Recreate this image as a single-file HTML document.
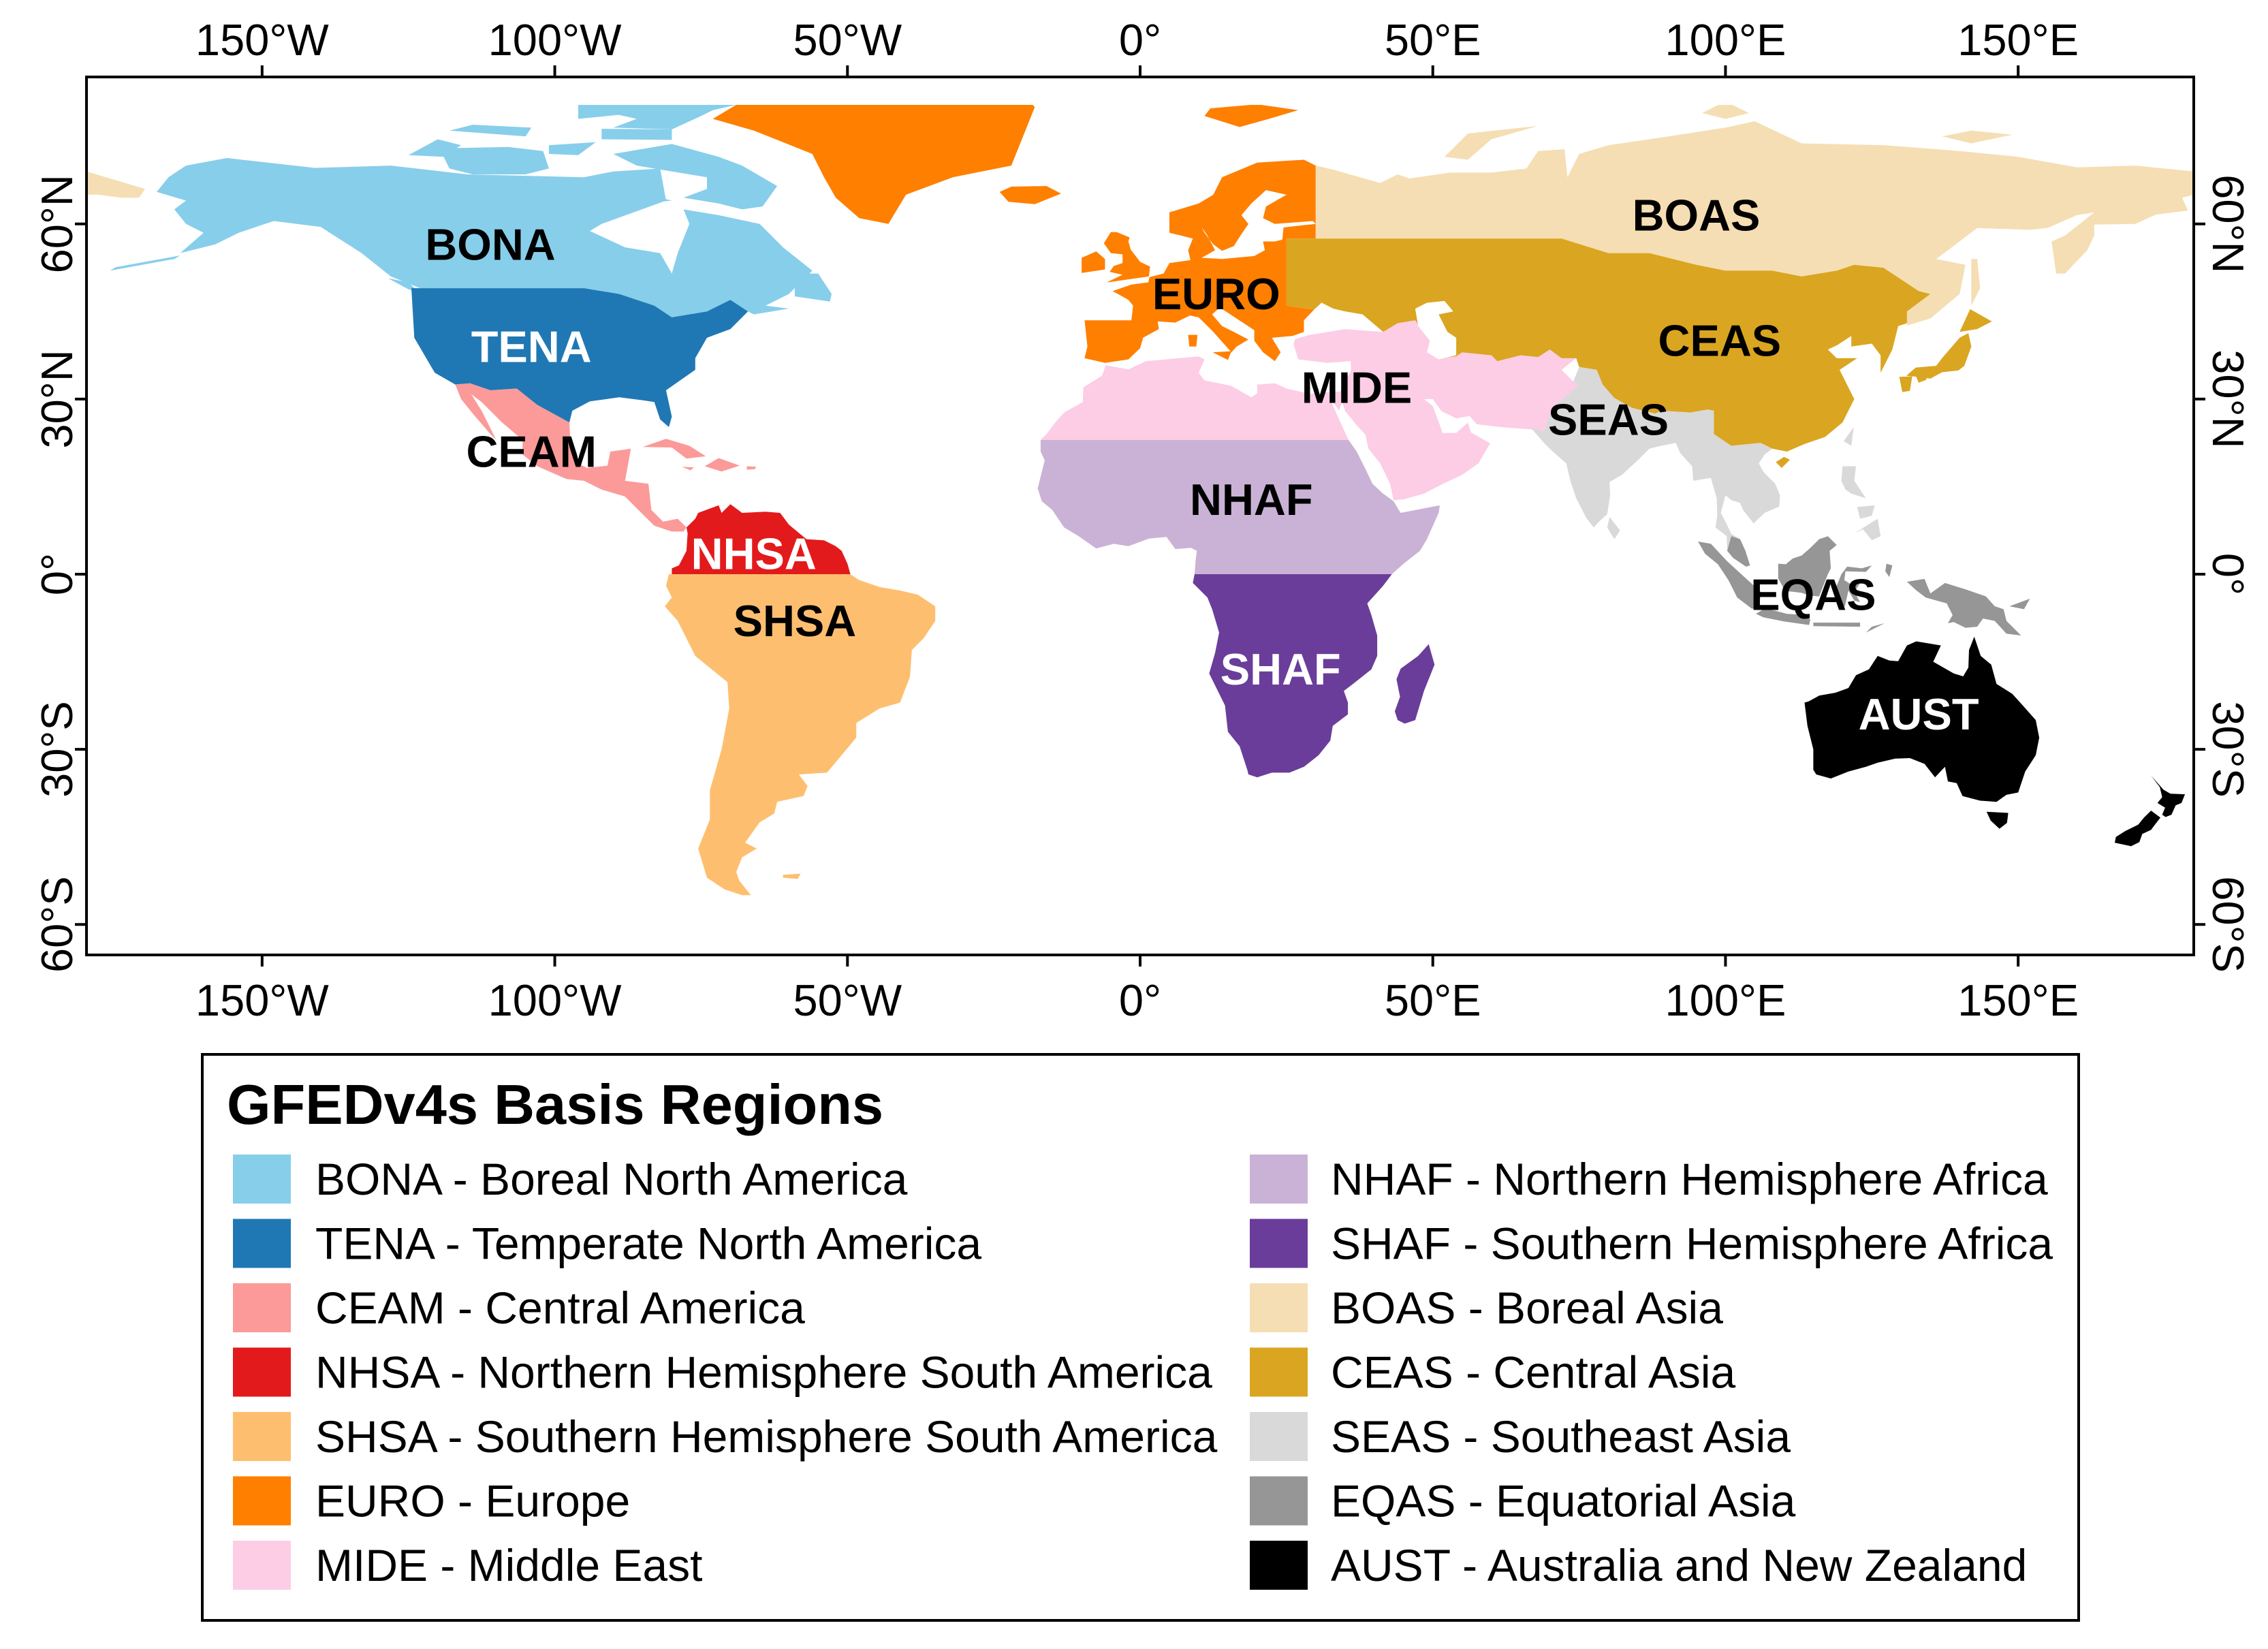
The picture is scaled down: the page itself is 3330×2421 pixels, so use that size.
<!DOCTYPE html>
<html><head><meta charset="utf-8"><title>GFEDv4s Basis Regions</title>
<style>
html,body{margin:0;padding:0;background:#fff}
svg{display:block;font-family:"Liberation Sans",Arial,sans-serif}
.lab{font-weight:bold;font-size:65px;text-anchor:middle;dominant-baseline:central}
.tick{font-size:65px}
.leg{font-size:66px;dominant-baseline:central}
</style></head>
<body>
<svg id="chart" width="3330" height="2421" viewBox="0 0 3330 2421" xmlns="http://www.w3.org/2000/svg">
<defs><clipPath id="frameclip"><rect x="127" y="154" width="3094" height="1248"/></clipPath></defs>
<g id="land" clip-path="url(#frameclip)"></g>
<g id="labels"></g>
<rect x="127" y="113" width="3094" height="1289" fill="none" stroke="#000" stroke-width="4"/>
<g id="axes"></g>
<g id="legend">
<rect x="297" y="1548" width="2755" height="831" fill="none" stroke="#000" stroke-width="4"/>
<text x="333" y="1650" font-size="83" font-weight="bold">GFEDv4s Basis Regions</text>
</g>
</svg>
<script>
const regionCodes=["BONA","TENA","CEAM","NHSA","SHSA","EURO","MIDE","NHAF","SHAF","BOAS","CEAS","SEAS","EQAS","AUST"];
const regionNames=["Boreal North America","Temperate North America","Central America","Northern Hemisphere South America","Southern Hemisphere South America","Europe","Middle East","Northern Hemisphere Africa","Southern Hemisphere Africa","Boreal Asia","Central Asia","Southeast Asia","Equatorial Asia","Australia and New Zealand"];
const regionColors=["#87CEEB","#1F78B4","#FB9A99","#E31A1C","#FDBF6F","#FF7F00","#FCCDE5","#CAB2D6","#6A3D9A","#F5DEB3","#DAA520","#D9D9D9","#969696","#000000"];
const labelLon=[-111,-104,-104,-66,-59,13,37,19,24,95,99,80,115,133];
const labelLat=[56.5,39,21,3.5,-8,48,32,12.8,-16.3,61.5,40,26.5,-3.5,-24];
const labelColors=["#000","#fff","#000","#fff","#000","#000","#000","#000","#fff","#000","#000","#000","#000","#fff"];
const lonTicks=[-150,-100,-50,0,50,100,150];
const lonTickLabels=["150°W","100°W","50°W","0°","50°E","100°E","150°E"];
const latTicks=[60,30,0,-30,-60];
const latTickLabels=["60°N","30°N","0°","30°S","60°S"];

const shapeBONA=[
[[-166,68],[-163,70],[-156,71.3],[-141,69.6],[-128,70],[-115,68.5],[-95,68],[-90,69],[-82,69.5],[-81,64],[-92,60],[-94,58.8],[-88,56],[-82,55],[-80,51.5],[-79,55],[-77,60],[-78,62.5],[-72,61.5],[-65,60],[-61,56],[-56,52],[-60,48],[-64,46],[-60,45.5],[-66,44.5],[-67,45],[-70,47],[-74,45],[-80,44],[-83,46],[-89,48],[-95,49],[-123,49],[-128,51],[-133,55],[-140,59.5],[-148,60.5],[-154,58.5],[-158,56.5],[-164,55],[-160,58.5],[-163,60],[-165,62.5],[-163,64],[-168,65.5]],
[[-90,72],[-80,73.7],[-72,71.5],[-68,70],[-62,66.5],[-64.5,63],[-68,62.5],[-72,63.5],[-78,64.5],[-74,66],[-74,68],[-80,69],[-86,70]],
[[-119,71.5],[-117,73],[-108,73.2],[-102,72.5],[-101,69.5],[-105,68.5],[-114,68.5],[-118,69.5]],
[[-125,71.8],[-120,74.5],[-116,73.5],[-119,71.5]],
[[-90,76.5],[-80,76.2],[-75,78.5],[-73,79.5],[-62,82],[-70,83],[-90,81.5],[-95,80],[-86,78]],
[[-92,74.5],[-80,74.4],[-80,76.2],[-92,76.3]],
[[-101,72],[-96,71.8],[-93,74],[-101,73.5]],
[[-118,76],[-105,75],[-104,76.5],[-114,77]],
[[-96,78],[-86,79],[-90,81],[-96,80.5]],
[[-86,65.5],[-80,64],[-85,63.5]],
[[-59,47.6],[-53,46.7],[-52.7,48],[-55,51.5],[-57.5,51.5],[-59,49.5]],
[[-128.5,50.7],[-125,50],[-123.3,48.4],[-125,48.8]],
[[-176,52],[-165,54],[-164,54.6],[-175,52.6]]
];
const shapeTENA=[
[[-124.5,49],[-95,49],[-89,48],[-83,46],[-80,44],[-74,45],[-70,47],[-67,45],[-70,42],[-74,40.5],[-76,37],[-76,35],[-81,31.5],[-80,27],[-80.5,25.2],[-82,26.5],[-83,29.5],[-85,29.8],[-89,30.3],[-94,29.6],[-97,28],[-97.5,26],[-103,29],[-106.5,31.8],[-111,31.5],[-114.5,32.7],[-117,32.5],[-120.5,34.5],[-124,40.5]]
];
const shapeCEAM=[
[[-117,32.5],[-114.5,32.7],[-111,31.5],[-106.5,31.8],[-103,29],[-97.5,26],[-97.3,22],[-96,19],[-94.5,18.2],[-91,18.6],[-90.5,21],[-87,21.5],[-88,16],[-84,15.5],[-83.5,11],[-81.5,9],[-79,9.5],[-77.5,8],[-78,7.3],[-80,7.3],[-83,8.3],[-86,11.3],[-88,13.3],[-92,14.5],[-95,16],[-98,16.3],[-103,18.5],[-105.5,20.5],[-105.5,23],[-109,26],[-112.5,29.5],[-114.5,31]],
[[-117,32.5],[-114.7,31.5],[-112.5,28],[-110,23],[-111,24],[-114,27.5],[-116,30]],
[[-85,21.8],[-81,23.2],[-77,22],[-74.2,20.2],[-77.5,19.8],[-80,21.7]],
[[-74.4,18.5],[-72,19.9],[-68.4,18.6],[-71.5,17.6]],
[[-78.3,18.4],[-76.2,18.3],[-76.8,17.8]],
[[-67.2,18.5],[-65.6,18.4],[-65.8,18],[-67.2,17.9]]
];
const shapeNHSA=[
[[-80,0],[-80,1],[-78.8,1.5],[-77.5,4],[-77.3,7],[-77.5,8],[-76,9.5],[-75.5,10.5],[-72,11.8],[-71.5,10.5],[-70,12],[-68,10.5],[-64,10.7],[-61.5,10.5],[-60,8.5],[-57,6],[-54,5.8],[-52,4.8],[-51,4],[-50,1.8],[-49.5,0]]
];
const shapeSHSA=[
[[-80.5,0],[-81,-2],[-80,-4],[-81.2,-5.5],[-79,-8],[-76,-14],[-70.5,-18.5],[-70.2,-23],[-71.5,-30],[-73.5,-37],[-73.5,-42],[-75.5,-47],[-74,-52],[-71,-54],[-68,-55],[-66.5,-55],[-68.5,-52.5],[-69,-51],[-68,-48.5],[-65.5,-47],[-67.5,-46],[-65,-42.5],[-62.5,-41],[-62,-39],[-57.5,-38],[-56.8,-36.3],[-58.3,-34.3],[-53.5,-34],[-48.5,-28],[-48.5,-25.5],[-44.5,-23],[-41,-22],[-39.3,-17.5],[-39,-13],[-37,-11],[-35,-8],[-35,-5.5],[-38,-3.5],[-41,-2.8],[-44.5,-2.2],[-48,-1],[-49.5,0]],
[[-61,-51.5],[-58,-51.3],[-58.5,-52.2],[-61,-52]]
];
const shapeEURO=[
[[-9.5,43.5],[-9,39],[-9.5,37],[-6,36.2],[-2,36.8],[0,38.7],[0.5,40.5],[3.2,42],[3,43.3],[6,43.1],[8.5,44.3],[10,44],[12.5,41.5],[15.6,38],[16.5,39],[18.5,40.2],[16,41.5],[14,42.5],[12.3,44.5],[13.6,45.7],[19.5,41.8],[19.5,40],[21,38],[23,36.5],[24,38],[22.5,40.5],[26,40.8],[28,41.5],[28,43.5],[29.7,45.3],[25,46],[25,57.5],[30,57.5],[30,70],[28,71],[20,70.5],[14,68],[12.5,65],[10,63.5],[5,62],[5,58.5],[7,58],[9,57.5],[8.2,55.5],[8.6,53.8],[5,53.3],[4,51.5],[1.6,50.9],[1.4,50],[-1.5,49.6],[-4.7,48.5],[-2,47],[-1.2,46],[-1.5,43.5]],
[[-5.5,50],[1.5,51],[1.7,52.7],[0,53.5],[-1.6,55.6],[-2,57],[-1.8,57.7],[-4,58.6],[-5,58.6],[-6.2,56.7],[-5,55],[-3,54.8],[-3,53.3],[-4.5,52.8],[-5.2,51.8],[-3,51.3],[-5.7,50]],
[[-10,51.6],[-6,52.2],[-6,54],[-7.5,55.3],[-10,54.2]],
[[-24,65.5],[-22,66.4],[-16,66.5],[-13.5,65.2],[-18,63.4],[-22.5,63.8]],
[[11,78.5],[17,76.6],[22,78],[27,79.5],[20,80.5],[12,79.8]],
[[-73,78],[-68,81],[-40,83.5],[-20,82.5],[-18,80],[-20,75],[-22,70],[-32,68],[-40,65],[-43,60],[-48,61],[-52,64.5],[-54,68],[-56,72],[-66,76]],
[[8.2,41],[9.8,41],[9.6,39],[8.4,39]],[[12.4,38],[15.6,38.2],[15,36.7]]
];
const shapeMIDE=[
[[-17,23],[-16,24],[-14.5,26],[-13,27.7],[-9.8,29.5],[-9.7,32],[-6.5,34],[-5.9,35.8],[-2,35.1],[1,36.5],[10,37.3],[11,36.8],[10,34.5],[11,33.2],[15.5,32.3],[19,30.3],[20,31],[20,32.5],[23,32.7],[25,31.8],[29,30.9],[32.3,31.2],[32.5,29.9],[34,26.5],[35.6,23]],
[[32.5,31.2],[34.2,31.3],[35,33],[36,34.8],[36,36.5],[32,36.2],[27,36.8],[26.2,39.5],[26.5,40.3],[29,41],[35,42],[41.5,41.5],[44,43],[47,43.5],[48,42],[50,40.5],[49,38],[51,37],[54,37.3],[55,38],[60,37.5],[61,36.5],[65,37.5],[68,37.2],[70,38.5],[72,37],[74.5,37],[72,35],[74,33],[75,32.5],[71,29],[70,27.5],[69,24.5],[67,24.8],[61.5,25.2],[57.5,25.7],[56.3,27.1],[54,26.7],[51.5,27.9],[50,30],[48.5,30],[50,28.8],[51.4,25],[51.6,24.2],[54,24.2],[56,26],[56.5,24.3],[59.8,22.4],[57.8,19],[55,17],[52,15.6],[48.5,13.8],[45,12.8],[43.3,12.7],[42.7,15.5],[41,19],[39,21.5],[38.5,23.9],[37,25.5],[35,28],[34.5,29.5],[34,28],[32.7,29.8]]
];
const shapeNHAF=[
[[-17,23],[35.6,23],[37,21],[38.5,18],[39.7,15.5],[41.5,13.8],[43.3,12.5],[44.5,10.5],[51.2,11.8],[51,10.5],[49,6],[47.8,4],[45,1.8],[43,0],[9.3,0],[9.5,2.5],[9.7,4],[8.7,4.5],[6,4.3],[4.5,6.4],[1.5,6.1],[-2,4.8],[-4.5,5.2],[-7.5,4.4],[-10.5,6.5],[-13,8],[-15,11],[-16.8,12.5],[-17.5,14.7],[-16.3,19.5],[-17,21]]
];
const shapeSHAF=[
[[9.3,0],[9,-1.5],[11.5,-4],[12.3,-6],[13.5,-10],[12.8,-13.5],[11.8,-17],[14.5,-22.5],[15,-27],[17,-29.5],[18.3,-33.5],[18.5,-34.3],[20,-34.8],[22.5,-34],[25.5,-34],[28,-33],[30.5,-31],[32.5,-28.5],[32.9,-26],[35.5,-24],[35.5,-22],[34.8,-20],[36.5,-18.7],[39.5,-16.3],[40.5,-14],[40.5,-10.5],[39.5,-7],[38.8,-5],[41.5,-2],[43,0]],
[[44,-25],[45.2,-25.6],[47,-25],[48.5,-20],[50.3,-15.5],[49.3,-12],[47.5,-14],[44.5,-16.2],[43.8,-18],[44.4,-21],[43.5,-23.5]]
];
const shapeBOAS=[
[[30,57.5],[30,70],[33,69.3],[41,67],[44,68.5],[46,67.8],[53,68.8],[60,68.8],[66,69.5],[68,72.5],[72.5,72.8],[73,68],[75,72],[80,73.5],[87,74.5],[100,76.5],[105,77.6],[113,73.8],[127,73.5],[140,72.5],[150,71.5],[160,69.7],[170,70],[180,69],[180,65],[178,64.5],[179,62.3],[173.5,61.6],[170,60],[163,59.9],[163,58],[161.8,55.5],[158,51.5],[156.5,51.5],[155.7,57],[158,58],[163,62],[160,61.5],[155,59.3],[152,59],[143,59.3],[140,57],[136,54],[141,53],[140,48],[135,43.8],[131,42.6],[131,45],[135,48],[133,48.5],[127,52.5],[122,53],[119,52],[113,51],[108,52],[100,52],[95,53],[87,55],[80,55],[72,57.5]],
[[142,46],[143.5,49],[143,54],[142,54],[142,48]],
[[52,71.5],[56,75.5],[68,76.8],[60,74.5],[56,71]],
[[96,79],[100,81],[104,79],[100,78]],
[[137,75],[142,76],[149,75.3],[142,73.8]],
[[-180,69],[-175,67.5],[-170,66],[-171,64.5],[-174,64.5],[-178,65],[-180,65]]
];
const shapeCEAS=[
[[25,57.5],[72,57.5],[80,55],[87,55],[95,53],[100,52],[108,52],[113,51],[119,52],[122,53],[127,52.5],[133,48.5],[135,48],[131,45],[131,43],[129.5,42.5],[128.5,38.5],[126.5,34.5],[126.5,37.5],[125,39.5],[121.5,39],[121.5,40.8],[119,39.2],[117.5,38.5],[119,37],[122.5,37],[119.5,35],[121,32],[122,30],[120,26],[117,23.5],[113.5,22.3],[110.5,21],[108,21.5],[106,22.5],[101,22],[98,24],[98,28],[97,28.2],[94,27.7],[89,28],[88,27.5],[84,28.5],[81,30.2],[79,32.5],[78,35],[75,35.5],[74.5,37],[72,37],[70,38.5],[68,37.2],[65,37.5],[61,36.5],[60,37.5],[55,38],[54,37.3],[51,37],[49,38],[50,40.5],[48,42],[47,43.5],[44,43],[41.5,41.5],[38,44.5],[35,45],[33,45.5],[31,46.5],[29.7,45.3],[25,46]],
[[130.9,34],[132.5,35.4],[136,35.7],[137,37],[140,40.5],[141.5,41.3],[142,39],[140.8,35.7],[139.8,34.9],[137,34.6],[135,33.5],[132,33.9]],
[[140,41.5],[141.8,45.4],[145.5,43.3],[143,42]],
[[129.7,33.8],[131.9,33.9],[131.5,31.4],[130.2,31.2]],
[[132.5,34],[134.5,34.2],[134.3,33.3],[133,32.8]],
[[108.6,19.2],[110,20.1],[111,19.6],[109.6,18.2]]
];
const shapeSEAS=[
[[66,25.3],[67,24.8],[69,22.5],[70.5,21],[72.8,19],[73.5,16],[74.5,13],[76.3,9.5],[77.5,8],[78.3,8.9],[79.8,10.3],[80.3,13.5],[80.2,15.8],[82.3,17],[85,19.5],[87,21.5],[89,22],[91.5,22.5],[92.3,20.7],[94.3,18.5],[94.5,16],[97.5,16.5],[98.5,13],[98.6,10],[98.3,8],[100.2,6.5],[100.3,4],[101.3,2.8],[103.5,1.3],[104.2,1.5],[103.4,4],[102.5,6],[101,6.9],[100,9],[99.2,10.5],[100,13.5],[101,12.7],[102.5,12.2],[103,11],[104.8,8.7],[106.7,10.5],[109.2,11.6],[109.3,13.5],[108.5,15.5],[106.5,17.5],[105.7,19],[106.7,20.5],[108,21.5],[106,22.5],[101,22],[98,24],[98,28],[97,28.2],[94,27.7],[89,28],[88,27.5],[84,28.5],[81,30.2],[79,32.5],[78,35],[75,35.5],[74,33],[75,32.5],[71,29],[70,27.5],[69,24.5]],
[[79.8,8],[81,6],[82,7.5],[80.2,9.8]],
[[120,18.5],[122.3,18.5],[122,16],[124,13],[121.5,13.8],[120.5,14.5],[119.8,16]],
[[122,7],[126,9.5],[126.5,6.5],[125,5.8],[123.5,7.7]],
[[122.5,11.5],[125.5,11.8],[125,10],[123,9.5]],
[[120.2,22.8],[121.9,25.2],[121.5,22]]
];
const shapeEQAS=[
[[95.3,5.6],[97.5,5.2],[100.3,2.2],[103.8,-1],[106,-3],[105.8,-5.8],[104.5,-5.9],[102,-4],[100.5,-1],[98.7,1.7],[96.5,3.5]],
[[105.2,-6.8],[106.5,-6],[108.3,-6.2],[110.5,-6.8],[112.5,-6.9],[114.5,-7.7],[114.3,-8.7],[110,-8.1],[106.5,-7.4]],
[[109,1.8],[110.3,1.7],[111.5,2.7],[113,3.2],[114.5,4.5],[116,6],[117.5,6.5],[119,5],[117.8,4],[118,1],[117.5,0],[116.5,-2.5],[116,-3.8],[114.5,-3.7],[113,-3.2],[111.5,-3],[110.2,-2.9],[109,-0.7]],
[[119.5,-5.5],[119.4,-3.5],[118.8,-2.5],[119.8,0],[120.8,1.3],[123.3,1],[125,1.5],[124,0.4],[120.5,0.5],[120.3,-1],[121.5,-1.8],[123.5,-0.8],[122,-3],[123,-4.8],[122,-4.5],[121,-2.8],[120.4,-5.5]],
[[131,-1.3],[134,-0.8],[135,-3.3],[137.5,-1.5],[141,-2.6],[144.5,-3.8],[146,-5.5],[147.5,-6],[148,-8],[150.5,-10.5],[148,-10.2],[146,-8],[144,-7.6],[143,-9],[141,-9.2],[139,-8.2],[138,-8.4],[138.8,-7],[137.8,-5],[134.2,-4],[132.5,-2.7]],
[[124,-10],[127.2,-8.4],[125,-9]],
[[115,-8.3],[123,-8.3],[123,-9],[115,-8.9]],
[[148.5,-5.5],[152,-4.2],[151,-6]],
[[127.5,1.8],[128.5,1.5],[128,-0.5],[127.3,0.5]],
[[101.3,2.8],[103.5,1.3],[104.2,1.5],[103.4,4],[102.5,6],[101,6.5],[100.3,4]]
];
const shapeAUST=[
[[113.5,-22],[114,-26],[115,-30],[115,-33.5],[115.5,-34.3],[118,-35],[121,-33.8],[124,-33],[126,-32.3],[129,-31.6],[131.5,-31.5],[134,-32.5],[135.8,-34.8],[137.5,-33],[138,-35.5],[139.5,-35.8],[140.5,-38],[143.5,-38.8],[146.3,-39],[148,-37.8],[150,-37.4],[151.2,-33.8],[153,-31],[153.6,-28],[153,-25],[150.8,-22.5],[149,-20.5],[146.3,-18.8],[145.4,-15.5],[143.6,-14],[142.5,-10.7],[141.6,-13],[141.5,-16],[140.6,-17.5],[139,-17],[135.5,-15],[136.8,-12.2],[135.5,-12],[132.6,-11.5],[131,-12.2],[129.5,-14.9],[128,-14.8],[126,-14],[124.5,-16.3],[122.3,-17.3],[121,-19.5],[118.8,-20.3],[116,-20.8],[114.2,-21.8]],
[[144.6,-40.7],[148.3,-40.9],[148.1,-42.6],[146.8,-43.6],[145.3,-42.2]],
[[172.7,-34.5],[174.8,-36.9],[176,-37.6],[178.5,-37.7],[177.9,-39.2],[176.9,-39.6],[176.2,-41.2],[175.2,-41.6],[174.6,-41.2],[175.1,-40],[173.8,-39.2],[174.6,-38.2],[174.2,-36.5]],
[[172.7,-40.5],[174.3,-41.7],[173.3,-43],[172.7,-43.8],[171.2,-44.5],[170.7,-45.9],[169.3,-46.6],[166.5,-46],[166.7,-45],[168.3,-44],[170.5,-42.9],[171.5,-41.7]]
];
const shapeSeas=[
[[10.5,59.5],[11.5,58],[12.8,55.5],[10.5,54.2],[14,54],[19.5,54.5],[21.3,55.5],[21,57],[23,57],[24.3,57.3],[24.5,59.4],[28,59.8],[30,60],[29.5,60.5],[23,60],[21,61],[21.5,63],[25,65],[21.5,65.8],[19,63.5],[17.3,61.5],[18.5,60],[17,57.8],[16,56.2],[14,55.4],[12.5,56.5],[11,58.5]],
[[28,41.5],[28,43.5],[29.7,45.3],[31,46.5],[33,45.5],[35,45],[38,44.5],[41.5,41.5],[35,42],[29,41]],
[[47,45.5],[49,46.5],[52,46.8],[53.5,45],[51,44.5],[52.5,41.5],[54,40.5],[54,37.5],[51,36.8],[49,38],[49.5,40],[47.5,42.5]]
];
const regionShapes=[shapeBONA,shapeTENA,shapeCEAM,shapeNHSA,shapeSHSA,shapeEURO,shapeMIDE,shapeNHAF,shapeSHAF,shapeBOAS,shapeCEAS,shapeSEAS,shapeEQAS,shapeAUST];

const NS="http://www.w3.org/2000/svg";
const X0=127,X1=3221,Y0=113,Y1=1402;
function xScale(lon){return X0+(lon+180)/360*(X1-X0);}
function yScale(lat){return 843-lat*8.57;}
function pts(poly){return poly.map(p=>xScale(p[0]).toFixed(1)+","+yScale(p[1]).toFixed(1)).join(" ");}
function mk(tag,attrs,parent){const e=document.createElementNS(NS,tag);for(const k in attrs)e.setAttribute(k,attrs[k]);parent.appendChild(e);return e;}

const land=document.getElementById("land");
regionShapes.forEach((shape,i)=>{
  const g=mk("g",{fill:regionColors[i]},land);
  
  
  shape.forEach(poly=>{
    const p=mk("polygon",{points:pts(poly)},g);
    
    
  });
});
const seaG=mk("g",{fill:"#fff"},land);


shapeSeas.forEach(poly=>{
  const p=mk("polygon",{points:pts(poly)},seaG);
  
  
});

const labels=document.getElementById("labels");
regionCodes.forEach((c,i)=>{
  const t=mk("text",{x:xScale(labelLon[i]),y:yScale(labelLat[i]),class:"lab",fill:labelColors[i]},labels);
  t.textContent=c;
  
  
});

const axes=document.getElementById("axes");
lonTicks.forEach((v,i)=>{
  const x=xScale(v);
  const l1=mk("line",{x1:x,x2:x,y1:Y0,y2:Y0-17,stroke:"#000","stroke-width":4},axes);
  
  
  const l2=mk("line",{x1:x,x2:x,y1:Y1,y2:Y1+17,stroke:"#000","stroke-width":4},axes);
  
  
  const t1=mk("text",{x:x,y:81,class:"tick","text-anchor":"middle"},axes);
  t1.textContent=lonTickLabels[i];
  
  
  const t2=mk("text",{x:x,y:1491,class:"tick","text-anchor":"middle"},axes);
  t2.textContent=lonTickLabels[i];
  
  
});
latTicks.forEach((v,i)=>{
  const y=yScale(v);
  const l1=mk("line",{x1:X0,x2:X0-17,y1:y,y2:y,stroke:"#000","stroke-width":4},axes);
  
  
  const l2=mk("line",{x1:X1,x2:X1+17,y1:y,y2:y,stroke:"#000","stroke-width":4},axes);
  
  
  const t1=mk("text",{x:0,y:0,class:"tick","text-anchor":"middle",transform:"translate(106,"+y+") rotate(-90)"},axes);
  t1.textContent=latTickLabels[i];
  
  
  const t2=mk("text",{x:0,y:0,class:"tick","text-anchor":"middle",transform:"translate(3249,"+y+") rotate(90)"},axes);
  t2.textContent=latTickLabels[i];
  
  
});

const legend=document.getElementById("legend");
regionCodes.forEach((c,i)=>{
  const col=i<7?0:1, row=i%7;
  const sx=col===0?342:1835, tx=col===0?463:1954;
  const cy=1731+row*94.5;
  const g=mk("g",{},legend);
  
  
  const r=mk("rect",{x:sx,y:cy-36,width:85,height:72,fill:regionColors[i]},g);
  
  
  const t=mk("text",{x:tx,y:cy,class:"leg"},g);
  t.textContent=c+" - "+regionNames[i];
  
  
});
</script>
</body></html>
